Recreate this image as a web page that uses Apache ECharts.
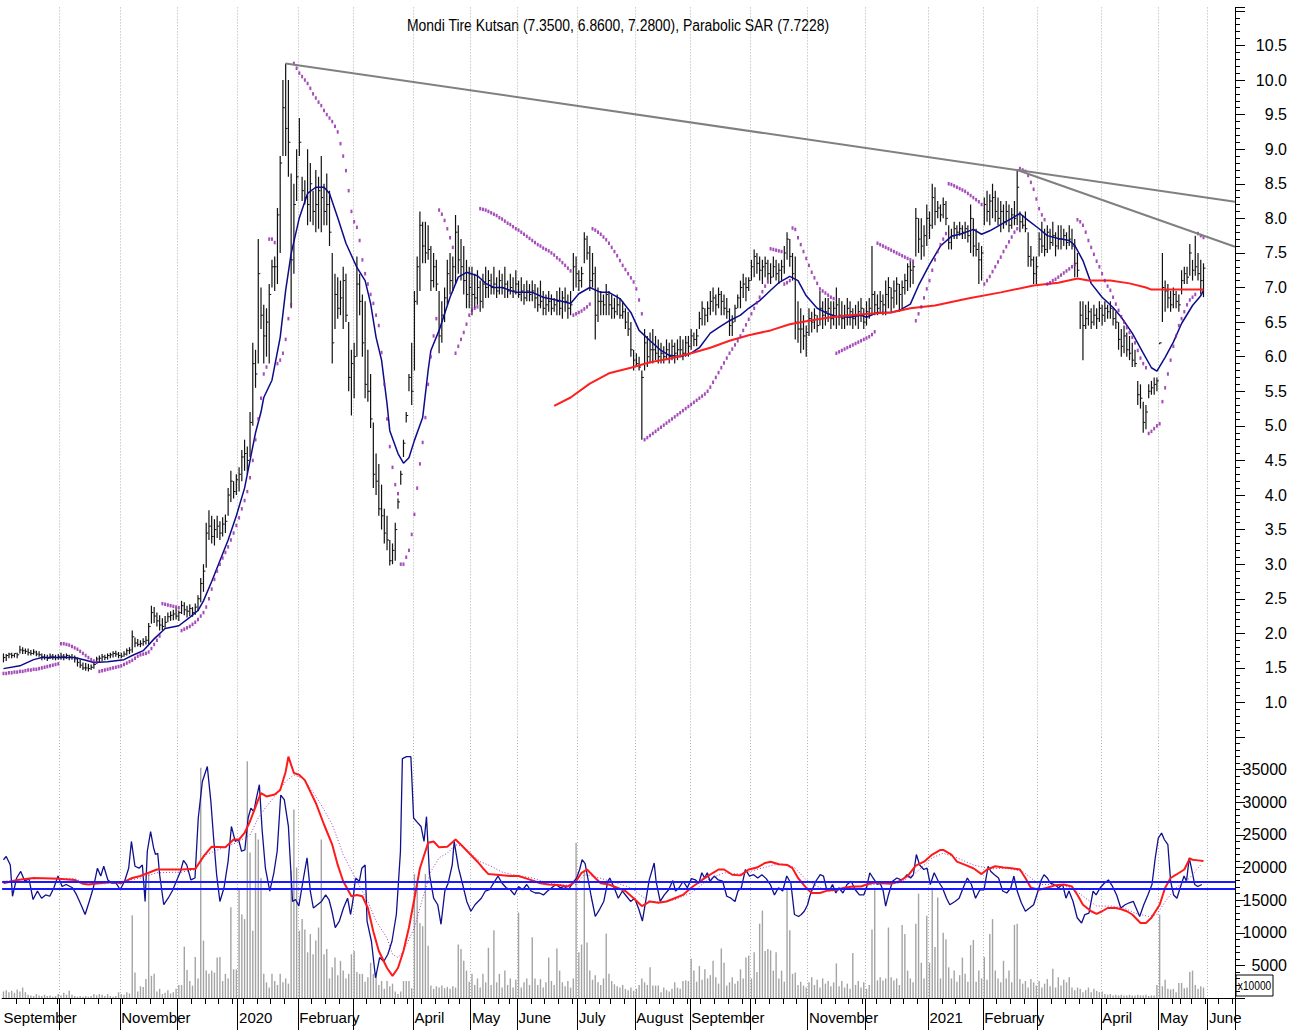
<!DOCTYPE html>
<html><head><meta charset="utf-8">
<script src="https://cdn.jsdelivr.net/npm/echarts/dist/echarts.min.js"></script>
<style>html,body{margin:0;padding:0;background:#fff}#c{width:1300px;height:1034px}</style>
</head><body><div id="c"></div>
<script>
const FONT = "'Liberation Sans Narrow','Arial Narrow','Liberation Sans',Arial,sans-serif";
const startDate = '2019-09-02';
const holidays = ['2019-10-29','2020-01-01','2020-04-23','2020-05-01','2020-05-19','2020-05-25','2020-05-26','2020-07-15','2020-07-31','2020-08-03','2020-10-29','2021-01-01','2021-04-23','2021-05-13','2021-05-14','2021-05-19'];
const slotCount = 450;
const monthLabels = [['2019-09','September'],['2019-11','November'],['2020-01','2020'],['2020-02','February'],['2020-04','April'],['2020-05','May'],['2020-06','June'],['2020-07','July'],['2020-08','August'],['2020-09','September'],['2020-11','November'],['2021-01','2021'],['2021-02','February'],['2021-04','April'],['2021-05','May'],['2021-06','June']];

const high = [
1.71,1.70,1.72,1.72,1.71,1.72,1.82,1.80,1.78,1.78,
1.76,1.77,1.75,1.74,1.71,1.70,1.69,1.71,1.70,1.69,
1.70,1.72,1.70,1.71,1.69,1.70,1.68,1.65,1.62,1.58,
1.57,1.56,1.55,1.58,1.66,1.68,1.70,1.69,1.71,1.72,
1.74,1.75,1.73,1.72,1.74,1.78,1.80,2.04,1.94,1.92,
1.90,1.93,1.96,2.15,2.40,2.38,2.30,2.26,2.22,2.25,
2.30,2.32,2.34,2.36,2.33,2.47,2.45,2.40,2.42,2.38,
2.43,2.55,2.80,3.00,3.60,3.78,3.70,3.65,3.70,3.62,
3.68,3.72,4.10,4.35,4.20,4.30,4.40,4.65,4.80,4.70,
5.20,6.20,6.10,7.70,7.00,6.75,6.70,7.05,7.40,7.45,
8.15,8.90,10.00,10.24,10.00,8.65,8.50,9.00,9.45,8.60,
8.55,9.00,8.80,8.40,8.70,8.60,8.90,8.50,8.65,8.40,
7.50,7.20,7.15,7.10,7.30,7.20,6.50,6.10,6.20,7.45,
7.20,6.90,6.80,6.10,5.75,5.05,4.60,4.45,4.15,3.80,
3.70,3.35,3.30,3.60,3.95,4.35,4.80,5.20,5.75,6.20,
6.95,7.45,8.10,7.95,7.95,7.90,7.60,7.50,7.40,6.95,
6.80,7.00,7.40,7.50,7.45,8.05,7.90,7.70,7.60,7.40,
7.30,7.30,7.20,7.25,7.10,7.20,7.30,7.25,7.20,7.30,
7.15,7.25,7.20,7.30,7.10,7.20,7.15,7.25,7.10,7.15,
7.05,7.10,7.05,7.10,7.05,7.00,7.10,6.95,6.90,6.95,
6.90,6.85,6.95,7.00,6.95,7.00,6.90,6.95,7.50,7.45,
7.25,7.30,7.80,7.75,7.60,7.50,7.30,7.00,6.95,6.90,
7.05,6.95,6.90,6.85,6.90,6.85,6.80,6.70,6.65,6.50,
6.10,6.05,6.00,5.80,6.40,6.30,6.35,6.40,6.30,6.25,
6.20,6.15,6.25,6.20,6.25,6.20,6.25,6.30,6.25,6.30,
6.30,6.40,6.35,6.40,6.65,6.80,6.70,6.80,6.95,7.00,
6.90,7.00,6.95,6.90,6.85,6.70,6.60,6.75,6.90,7.10,
7.20,7.15,7.15,7.40,7.55,7.50,7.45,7.40,7.45,7.40,
7.35,7.45,7.40,7.35,7.40,7.60,7.80,7.70,7.50,7.45,
6.80,6.70,6.60,6.45,6.70,6.65,6.70,6.60,6.95,6.80,
6.85,6.85,6.80,6.80,7.00,6.85,6.80,6.75,6.85,6.80,
6.70,6.75,6.80,6.85,6.70,6.80,6.85,7.60,6.95,6.90,
6.95,6.90,7.10,7.15,7.00,7.10,7.15,7.05,7.10,7.20,
7.35,7.38,7.36,8.15,8.00,8.00,7.90,8.20,8.10,8.50,
8.45,8.25,8.20,8.30,8.25,7.90,7.85,7.95,7.90,7.95,
7.90,7.95,7.90,8.20,8.00,7.85,7.65,7.60,8.30,8.40,
8.35,8.50,8.40,8.30,8.25,8.20,8.25,8.20,8.15,8.25,
8.70,8.10,8.05,8.10,7.80,7.60,7.45,7.45,7.80,7.95,
7.85,7.90,7.85,7.95,7.80,7.90,7.90,7.85,7.80,7.90,
7.85,7.70,7.50,6.80,6.80,6.75,6.80,6.70,6.75,6.70,
6.80,6.75,6.80,6.75,6.80,6.70,6.65,6.50,6.40,6.45,
6.35,6.30,6.20,6.10,5.65,5.60,5.35,5.30,5.60,5.65,
5.70,5.70,6.20,7.50,7.10,7.05,6.95,7.00,6.95,6.90,
7.25,7.30,7.30,7.63,7.40,7.75,7.50,7.40,7.35];
const low = [
1.58,1.60,1.64,1.64,1.65,1.64,1.71,1.70,1.70,1.68,
1.68,1.69,1.67,1.66,1.61,1.62,1.60,1.63,1.62,1.61,
1.62,1.62,1.61,1.63,1.61,1.62,1.58,1.52,1.50,1.47,
1.46,1.45,1.47,1.49,1.56,1.58,1.60,1.61,1.62,1.64,
1.65,1.66,1.64,1.64,1.66,1.68,1.70,1.72,1.80,1.81,
1.80,1.82,1.84,1.84,2.14,2.15,2.10,2.04,2.05,2.08,
2.16,2.18,2.19,2.20,2.18,2.28,2.26,2.23,2.25,2.24,
2.27,2.32,2.45,2.60,2.95,3.35,3.30,3.27,3.38,3.35,
3.40,3.45,3.70,3.90,3.95,4.00,4.05,4.20,4.35,4.30,
4.55,5.00,5.55,5.90,6.40,5.90,6.00,5.90,7.00,6.95,
7.05,7.50,8.90,8.90,8.60,6.70,7.20,8.25,8.90,8.25,
8.20,7.90,7.95,7.90,7.80,7.85,7.80,7.90,7.90,7.60,
5.90,6.40,6.55,6.60,6.40,6.50,5.50,5.15,5.40,6.00,
6.60,6.00,5.40,5.35,4.97,4.10,4.00,3.70,3.50,3.30,
3.20,2.98,3.00,3.05,3.80,4.15,4.55,5.05,5.50,5.30,
5.80,6.75,6.95,7.35,7.35,7.40,6.95,7.00,6.95,6.05,
6.20,6.50,6.75,6.90,6.95,7.05,7.20,7.10,6.90,6.70,
6.70,6.60,6.70,6.75,6.65,6.70,6.85,6.85,6.90,6.90,
6.85,6.90,6.90,6.85,6.85,6.90,6.85,6.90,6.85,6.80,
6.75,6.80,6.80,6.80,6.70,6.65,6.70,6.60,6.60,6.65,
6.60,6.65,6.60,6.60,6.55,6.65,6.55,6.60,6.95,7.00,
6.95,7.00,7.35,7.40,6.95,7.00,6.25,6.50,6.60,6.60,
6.60,6.60,6.55,6.55,6.60,6.55,6.55,6.40,6.30,6.00,
5.80,5.85,5.80,4.80,5.80,5.85,5.90,5.90,5.95,5.90,
5.90,5.90,5.95,5.90,5.95,5.90,5.95,6.00,5.95,6.00,
6.00,6.10,6.15,6.15,6.40,6.45,6.45,6.50,6.60,6.65,
6.60,6.70,6.60,6.60,6.55,6.30,6.30,6.50,6.70,6.70,
6.85,6.80,6.95,7.10,7.15,7.20,7.10,7.05,7.15,7.10,
7.05,7.15,7.10,7.05,7.10,7.20,7.40,7.30,7.10,6.25,
6.20,6.05,6.10,6.00,6.30,6.35,6.40,6.35,6.45,6.40,
6.45,6.50,6.40,6.45,6.40,6.45,6.40,6.40,6.45,6.45,
6.40,6.45,6.40,6.50,6.40,6.45,6.55,6.60,6.60,6.60,
6.65,6.60,6.60,6.70,6.65,6.70,6.75,6.65,6.70,6.90,
6.95,7.00,7.05,7.45,7.50,7.40,7.45,7.60,7.70,7.85,
7.90,8.00,7.95,8.00,7.90,7.55,7.55,7.70,7.70,7.75,
7.70,7.70,7.65,7.50,7.45,7.45,7.05,7.10,7.90,7.95,
7.90,8.00,7.95,7.90,7.80,7.85,7.90,7.80,7.85,7.90,
7.90,7.80,7.85,7.80,7.30,7.30,7.05,7.05,7.45,7.50,
7.45,7.50,7.55,7.60,7.45,7.55,7.55,7.60,7.55,7.60,
7.55,7.15,7.15,6.40,5.95,6.40,6.45,6.40,6.45,6.40,
6.50,6.45,6.50,6.55,6.55,6.45,6.40,6.10,6.00,6.05,
6.00,5.95,5.85,5.85,5.30,5.25,4.90,4.95,5.40,5.45,
5.45,5.50,6.20,6.50,6.65,6.70,6.65,6.70,6.70,6.65,
6.90,7.05,7.05,7.17,7.10,7.17,7.10,6.90,6.86];
const close = [
1.65,1.68,1.70,1.68,1.71,1.69,1.76,1.75,1.74,1.72,
1.71,1.73,1.70,1.69,1.66,1.65,1.64,1.67,1.66,1.65,
1.66,1.67,1.66,1.68,1.66,1.65,1.63,1.58,1.54,1.50,
1.50,1.49,1.51,1.55,1.63,1.64,1.66,1.65,1.68,1.69,
1.71,1.70,1.68,1.67,1.70,1.75,1.76,1.95,1.86,1.84,
1.85,1.88,1.90,2.10,2.30,2.25,2.18,2.12,2.10,2.16,
2.24,2.26,2.28,2.25,2.30,2.40,2.34,2.32,2.36,2.30,
2.38,2.50,2.72,2.90,3.45,3.55,3.40,3.50,3.55,3.45,
3.58,3.62,4.00,4.20,4.05,4.22,4.30,4.55,4.60,4.50,
5.05,5.90,5.75,7.20,6.60,6.30,6.50,6.90,7.30,7.30,
8.05,8.80,9.60,9.30,9.10,7.40,8.20,8.60,9.10,8.40,
8.30,8.20,8.50,8.10,8.20,8.40,8.30,8.10,8.20,7.80,
6.20,6.90,6.70,6.85,7.10,6.60,5.70,5.90,6.00,7.05,
6.80,6.20,5.60,5.50,5.10,4.30,4.20,3.80,3.70,3.45,
3.35,3.05,3.20,3.50,3.90,4.30,4.75,5.15,5.70,5.50,
6.80,7.30,7.90,7.60,7.50,7.55,7.10,7.30,7.05,6.30,
6.60,6.85,7.20,7.10,7.30,7.80,7.40,7.30,7.10,6.90,
7.00,6.90,6.85,7.00,6.80,7.05,7.00,7.10,7.00,7.05,
6.95,7.10,7.00,7.05,6.95,7.00,6.95,7.05,6.90,6.95,
6.85,6.95,6.90,6.95,6.85,6.75,6.80,6.70,6.75,6.80,
6.70,6.75,6.80,6.70,6.85,6.80,6.70,6.75,7.30,7.20,
7.10,7.20,7.70,7.50,7.10,7.20,6.60,6.80,6.80,6.75,
6.90,6.75,6.70,6.65,6.75,6.60,6.65,6.50,6.40,6.10,
5.95,5.90,5.85,5.70,6.20,6.00,6.10,6.10,6.05,6.00,
6.05,6.00,6.10,6.00,6.15,6.05,6.10,6.10,6.05,6.20,
6.15,6.30,6.25,6.30,6.55,6.70,6.60,6.70,6.80,6.85,
6.75,6.90,6.80,6.70,6.65,6.45,6.50,6.70,6.85,7.00,
7.05,7.00,7.10,7.30,7.45,7.35,7.25,7.30,7.35,7.20,
7.15,7.30,7.20,7.25,7.30,7.50,7.70,7.45,7.20,6.50,
6.40,6.40,6.30,6.35,6.55,6.50,6.60,6.45,6.70,6.60,
6.65,6.70,6.55,6.70,6.75,6.60,6.55,6.60,6.70,6.65,
6.55,6.60,6.65,6.70,6.50,6.65,6.70,6.90,6.75,6.70,
6.80,6.75,6.90,7.00,6.85,6.95,7.05,6.90,7.00,7.10,
7.30,7.25,7.30,8.00,7.70,7.60,7.75,8.00,7.90,8.30,
8.10,8.15,8.05,8.20,8.00,7.65,7.75,7.85,7.80,7.85,
7.80,7.85,7.75,8.00,7.60,7.55,7.40,7.50,8.20,8.10,
8.25,8.30,8.10,8.00,8.10,7.95,8.10,7.90,8.05,8.00,
8.45,7.95,7.90,7.85,7.45,7.40,7.20,7.30,7.70,7.60,
7.55,7.80,7.65,7.75,7.60,7.70,7.70,7.75,7.65,7.70,
7.60,7.35,7.25,6.60,6.45,6.55,6.65,6.50,6.60,6.55,
6.70,6.60,6.70,6.65,6.70,6.55,6.50,6.25,6.15,6.30,
6.10,6.05,5.95,5.90,5.45,5.40,5.05,5.20,5.50,5.55,
5.60,5.65,6.20,7.00,6.95,6.85,6.75,6.90,6.80,6.75,
7.10,7.20,7.15,7.50,7.25,7.30,7.20,7.10,7.28];
const sar = [
1.42,1.42,1.43,1.43,1.44,1.44,1.45,1.45,1.46,1.47,
1.47,1.48,1.48,1.49,1.50,1.51,1.52,1.53,1.54,1.55,
1.56,1.85,1.85,1.84,1.83,1.81,1.79,1.77,1.74,1.71,
1.68,1.65,1.62,1.60,1.58,1.45,1.46,1.47,1.48,1.49,
1.50,1.51,1.52,1.53,1.55,1.57,1.59,1.61,1.64,1.67,
1.69,1.70,1.71,1.73,1.78,1.84,1.90,1.96,2.43,2.42,
2.41,2.40,2.39,2.38,2.37,2.04,2.06,2.08,2.10,2.13,
2.16,2.20,2.25,2.30,2.38,2.50,2.64,2.78,2.90,3.00,
3.09,3.17,3.25,3.35,3.45,3.56,3.67,3.80,3.92,4.05,
4.25,4.50,4.80,5.10,5.40,5.75,5.85,7.70,7.70,7.65,
5.90,5.95,6.05,6.25,6.55,6.75,10.24,10.17,10.10,10.05,
10.00,9.95,9.88,9.80,9.74,9.68,9.63,9.56,9.50,9.45,
9.40,9.33,9.25,9.08,8.90,8.69,8.40,8.10,7.95,7.87,
7.68,7.40,7.20,7.05,6.90,6.77,6.60,6.45,6.06,5.60,
5.10,4.70,4.40,4.15,4.02,3.00,3.00,3.10,3.20,3.43,
3.72,4.10,4.45,4.76,5.12,5.60,6.00,6.30,6.55,8.12,
8.06,7.97,7.85,7.72,7.58,6.05,6.15,6.25,6.35,6.47,
6.60,6.67,6.70,6.72,8.14,8.13,8.12,8.10,8.08,8.06,
8.04,8.01,7.99,7.96,7.93,7.91,7.88,7.85,7.83,7.80,
7.77,7.74,7.71,7.68,7.65,7.62,7.60,7.57,7.55,7.53,
7.50,7.47,7.43,7.40,7.36,7.32,7.28,7.24,6.60,6.62,
6.64,6.66,6.69,6.72,6.76,7.85,7.83,7.80,7.77,7.73,
7.69,7.64,7.58,7.52,7.46,7.39,7.32,7.26,7.20,7.14,
7.08,6.98,6.82,6.62,4.80,4.83,4.86,4.89,4.92,4.95,
4.98,5.01,5.04,5.07,5.10,5.13,5.16,5.19,5.22,5.25,
5.28,5.31,5.34,5.37,5.40,5.43,5.46,5.50,5.56,5.63,
5.70,5.77,5.84,5.91,5.98,6.05,6.11,6.17,6.23,6.30,
6.38,6.46,6.54,6.62,6.70,6.78,6.86,6.94,7.02,7.08,
7.56,7.55,7.54,7.53,7.52,7.05,7.07,7.10,7.86,7.84,
7.72,7.62,7.52,7.42,7.32,7.22,7.14,7.06,6.98,6.95,
6.92,6.89,6.86,6.84,6.05,6.07,6.09,6.11,6.13,6.15,
6.17,6.19,6.21,6.23,6.25,6.27,6.29,6.32,6.36,7.64,
7.62,7.60,7.58,7.56,7.54,7.52,7.50,7.48,7.46,7.44,
7.42,7.40,7.38,6.52,6.62,6.72,6.85,6.98,7.10,7.25,
7.40,7.52,7.62,7.70,7.78,8.50,8.49,8.47,8.45,8.43,
8.41,8.39,8.36,8.33,8.30,8.27,8.24,8.20,7.05,7.10,
7.16,7.23,7.30,7.37,7.44,7.52,7.59,7.66,7.73,7.80,
7.85,8.72,8.70,8.68,8.62,8.52,8.42,8.28,8.14,8.05,
7.98,7.05,7.07,7.10,7.12,7.15,7.18,7.21,7.24,7.27,
7.30,7.33,7.98,7.95,7.90,7.80,7.68,7.58,7.48,7.38,
7.30,7.20,7.10,7.02,6.96,6.86,6.76,6.67,6.58,6.50,
6.42,6.35,6.28,6.20,6.09,5.98,5.90,5.84,4.89,4.92,
4.96,5.00,5.03,5.35,5.55,5.75,5.95,6.15,6.30,6.45,
6.55,6.65,6.75,6.82,6.86,6.90,7.78,7.75,7.7228];
const volume = [
1000,1200,900,1100,800,1300,1000,1600,900,500,
400,300,600,400,300,500,300,400,200,300,
600,400,800,500,1100,500,300,200,300,200,
300,200,300,600,400,600,500,300,600,300,
200,300,870,600,500,870,700,12700,3900,1000,
1800,1700,2900,19000,3400,3700,1000,1400,600,800,
1200,700,900,1400,2000,2000,7850,4300,2600,1900,
6300,3000,35300,8800,4200,3700,4200,3900,6200,6300,
2600,3700,3000,13900,4400,4400,16700,12800,12100,36300,
22300,10300,25300,24300,18400,3700,2400,1600,3700,2600,
2000,3700,2400,3000,2200,19500,28900,20000,10300,12100,
10500,7000,9800,6700,8800,10800,24300,6700,7500,3000,
4700,6200,3500,5700,4200,3000,3700,6700,7200,4000,
3700,3700,2500,3200,5400,3700,3900,2000,2600,1400,
2600,1800,2200,1000,600,1000,2600,2600,2600,1500,
19000,17500,11500,11000,19000,8000,1900,1400,1800,1600,
1900,1500,1700,1400,1800,1600,8200,7500,5700,4200,
2500,3700,2000,3000,1600,3700,2400,7700,2000,10400,
2400,3700,1600,4200,2000,3000,1600,2800,13100,1600,
2400,3000,2000,9300,3000,2000,2900,1600,2400,6200,
2600,2000,7600,4200,2400,1800,2600,1600,3000,23800,
7000,8200,19500,8500,4200,2800,3500,2400,2000,3000,
9900,3700,2600,2100,1800,1600,2000,1400,1200,1600,
1100,1400,2000,3000,2400,2000,4700,1900,1900,1900,
900,1600,1200,1000,1400,2400,1600,1400,2600,2700,
2600,6000,4200,2500,4900,2800,4400,3000,3500,5700,
3200,2200,7600,5400,1900,2400,3200,2200,2600,4400,
3000,6200,6500,3000,7000,4000,11400,13400,7200,7500,
7300,4200,7000,3000,4200,2500,16900,10400,3700,3900,
2000,2500,1900,1600,2400,3200,2000,2800,1600,3000,
2200,2600,1800,2400,5300,1800,2600,1600,2200,1400,
6900,2000,2600,1600,2400,1400,2000,10500,16900,2700,
3200,2700,3000,10800,3200,2700,3000,2000,11200,9800,
4200,3000,2400,11400,16000,5400,3000,12600,5400,16900,
7800,15400,3000,10000,9000,4700,3000,4200,2500,3500,
6200,3700,2500,8100,8900,2500,4200,3000,6300,2800,
9800,12100,4200,3000,2400,5700,3000,4200,2400,11200,
11400,2900,2200,2600,1600,2900,2400,1900,2600,1600,
2200,2900,1800,4500,1600,3200,1900,2800,2400,3200,
1600,1200,1600,1400,900,1200,1600,900,1400,1100,
900,1000,600,500,600,400,500,400,500,400,
400,500,400,400,500,400,400,500,300,400,
400,2000,12800,1800,2800,1400,1300,1400,900,2300,
2300,1500,1600,4000,4200,2000,1400,1800,1600];
const ma20 = [[0,1.49],[6,1.53],[11,1.62],[14,1.65],[20,1.65],[26,1.65],[30,1.61],[33,1.58],[38,1.59],[44,1.62],[47,1.68],[51,1.75],[55,1.92],[59,2.07],[64,2.11],[68,2.23],[71,2.33],[73,2.47],[76,2.75],[79,3.05],[82,3.35],[85,3.70],[88,4.10],[90,4.50],[92,4.90],[94,5.20],[95,5.41],[98,5.66],[101,6.28],[103,6.96],[105,7.49],[108,8.01],[111,8.36],[114,8.45],[117,8.45],[119,8.36],[122,8.01],[125,7.64],[129,7.29],[132,7.10],[134,6.77],[136,6.28],[138,5.95],[140,5.32],[141,4.93],[144,4.60],[146,4.46],[148,4.54],[150,4.79],[153,5.12],[155,5.80],[156,6.09],[159,6.38],[163,6.86],[166,7.15],[169,7.22],[173,7.17],[176,7.06],[179,7.00],[182,7.00],[187,6.93],[193,6.93],[197,6.86],[199,6.84],[203,6.81],[207,6.77],[210,6.91],[214,7.00],[218,6.93],[221,6.93],[225,6.84],[229,6.64],[232,6.38],[236,6.23],[240,6.09],[243,6.02],[247,6.00],[251,6.05],[254,6.13],[258,6.34],[261,6.42],[265,6.52],[269,6.60],[272,6.70],[276,6.81],[280,6.96],[283,7.07],[287,7.16],[290,7.10],[293,6.88],[297,6.70],[301,6.62],[304,6.58],[309,6.57],[313,6.60],[315,6.57],[319,6.64],[324,6.64],[327,6.67],[331,6.76],[334,7.03],[338,7.33],[342,7.60],[346,7.74],[350,7.78],[354,7.84],[357,7.77],[360,7.82],[364,7.91],[368,8.00],[371,8.07],[374,7.97],[378,7.85],[381,7.75],[385,7.71],[389,7.68],[391,7.61],[394,7.39],[397,7.06],[401,6.86],[405,6.71],[408,6.57],[412,6.34],[416,6.05],[419,5.84],[421,5.79],[424,5.99],[427,6.21],[430,6.48],[434,6.74],[437,6.88],[438,6.96]];
const ma200 = [[201,5.29],[207,5.41],[214,5.61],[221,5.76],[229,5.84],[236,5.92],[243,5.97],[251,6.05],[258,6.13],[265,6.23],[272,6.31],[280,6.38],[287,6.47],[294,6.52],[302,6.57],[309,6.60],[316,6.62],[324,6.64],[331,6.70],[340,6.74],[352,6.84],[364,6.93],[376,7.03],[385,7.07],[392,7.13],[396,7.10],[404,7.10],[411,7.06],[417,7.00],[419,6.97],[425,6.97],[438,6.97]];
const trendLineA = [[103,10.24],[449.5,8.24]];
const trendLineB = [[370,8.70],[449.5,7.59]];
const oscBlue = [[0,21200],[1,21700],[2.5,20400],[3.3,15600],[4.8,18400],[6.3,19400],[7.8,17900],[9.3,18300],[10.8,15100],[12.4,16400],[13.9,15300],[15.4,15800],[16.9,15600],[18.4,16900],[19.9,18700],[21.4,17100],[22.9,17400],[25.2,16900],[26.7,15800],[28.3,14300],[29.8,12800],[31.3,14800],[32.8,16900],[34.3,19900],[35.5,18700],[36.6,20200],[38.1,18100],[39.6,17600],[41.1,17600],[42.6,16600],[44.2,17900],[45.7,19900],[46.7,24000],[48,20200],[49.5,19900],[50.7,20400],[51.7,14800],[52.5,22500],[53.7,25500],[54.8,23000],[55.5,22000],[56.3,22200],[57,18900],[58.5,14300],[60.1,15300],[61.6,16400],[63.1,17900],[64.6,19400],[65.7,21100],[66.9,20400],[68.4,18100],[69.9,18400],[71.1,27600],[72.6,33200],[74.4,35500],[75.7,30100],[76.7,24500],[77.8,18900],[79,14800],[80.5,16900],[82,21000],[83.2,26300],[84.6,24000],[85.8,24300],[86.9,22500],[88.1,22700],[89.3,27600],[90.3,29100],[91.4,28600],[92.3,30600],[93.4,32700],[94.4,25800],[95.6,19900],[97.2,16400],[98.7,19200],[99.9,22500],[101.2,31100],[102.5,30400],[104,26300],[104.7,20900],[105.5,14800],[106.6,15100],[107.8,14100],[109.3,17900],[110.8,21500],[112,16400],[113.1,13800],[114.6,14300],[116.1,14800],[117.6,15800],[118.8,15100],[119.9,13300],[121.1,10800],[122.6,11800],[124.1,13800],[125.6,15300],[126.7,12800],[127.5,14800],[128.5,18400],[129.9,17900],[130.8,19900],[132,20400],[132.7,11800],[134.3,8700],[135.8,3100],[137.3,6200],[138.8,5600],[140.3,6700],[141.8,8700],[143.4,12800],[144.9,22500],[145.6,36700],[147.1,37000],[148.7,37000],[149.7,27600],[150.9,27000],[152.4,26300],[153.5,24000],[154.4,27800],[155.5,18900],[157,15300],[158.5,14300],[159.7,11300],[161.1,16400],[162.3,17600],[163.8,20400],[164.5,24000],[166.1,19900],[167.6,17400],[169.1,14800],[170.6,13300],[172.1,14300],[174.4,15300],[175.9,16400],[177.4,16600],[178.9,17600],[180.5,18700],[182,17600],[183.5,16900],[185,16600],[186.5,15800],[188,17100],[189.5,16600],[191,17400],[192.6,16400],[194.1,16100],[195.6,16100],[197.1,15800],[198.6,16400],[200.1,16900],[201.7,17400],[203.2,16900],[204.7,17100],[206.2,16600],[207.7,17600],[209.2,18400],[210.3,19700],[211.2,21200],[212.3,20600],[213.5,17900],[214.5,15600],[216,12500],[217.6,13600],[219.1,14800],[220.6,17900],[221.3,18400],[222.9,16900],[224.4,15300],[225.9,16400],[227.4,15600],[228.9,14800],[230.4,15300],[231.9,13600],[233.2,11800],[234.2,14300],[235.7,18100],[237.5,20700],[238.2,17900],[239.7,14800],[241.2,15800],[242.8,16600],[244.3,18000],[245.3,16400],[246.6,16900],[248.1,17900],[249.6,16900],[251.1,18300],[252.6,18100],[253.8,17600],[254.9,19200],[255.9,18400],[256.9,19200],[257.9,17900],[259.4,18700],[260.9,18100],[262.5,17900],[264,15600],[265.5,15300],[267,14800],[268.1,16400],[269.3,16900],[270.8,19700],[272.3,18700],[273.8,18900],[275.3,18400],[276.8,18900],[278.4,18300],[279.9,17400],[281.4,15800],[282.9,16900],[284.4,16400],[285.9,18700],[287.4,17600],[288.7,12800],[290.2,12500],[291.2,12800],[292.3,13300],[293.5,14300],[294.3,15600],[295,16400],[296.5,17900],[298.1,18900],[299.3,18700],[300.3,16900],[301.4,16400],[302.6,17400],[303.8,16100],[304.9,16900],[306.4,16100],[307.9,17400],[309.4,17900],[310.9,16600],[312.4,15800],[314,15800],[315,16900],[316.2,19200],[317.4,18400],[319,17400],[320,17600],[321.1,16400],[322,14100],[323,15800],[324.5,17900],[326.1,18400],[327.6,18100],[328.8,18400],[329.8,18900],[331.1,18400],[332.1,18900],[333.2,22000],[334.4,20400],[335.9,19700],[337.1,19900],[338.3,17400],[339.7,19200],[341.2,17900],[342.7,16900],[344.2,15300],[345.4,14300],[347.3,14800],[348.8,15300],[350.3,16900],[351.8,18400],[353.3,17400],[354.8,15300],[356.4,16600],[357.9,16600],[359.4,20200],[360.4,19400],[361.7,18900],[363.2,18400],[364.7,16400],[366.2,16100],[367.7,16900],[368.8,18700],[370,16400],[371.5,14600],[373,13300],[374.5,13800],[376,14300],[377.6,16400],[378.8,18100],[379.8,18900],[381,18400],[382.1,17600],[383.6,17400],[385.1,16900],[386.6,17400],[387.8,15300],[388.9,16400],[390.4,14800],[391.9,12300],[393.5,11500],[394.7,12800],[396.2,13000],[397.7,16400],[398.8,15800],[400.3,16900],[401.8,17600],[403.3,18100],[404.8,17100],[406.3,15800],[407.8,13800],[409.4,14300],[410.9,14600],[412.4,14800],[413.4,13800],[414.7,12500],[416.2,14300],[417.7,15800],[419.2,17400],[420.4,21500],[421.5,24500],[422.7,25300],[423.7,24300],[425,23500],[426,17900],[427.1,15800],[428.3,15300],[429.5,16900],[430.9,18700],[431.8,17900],[432.8,21500],[433.6,19900],[434.8,17400],[435.9,17100],[437.4,17400]];
const oscRed = [[0,17600],[5,18100],[11,18400],[20,18300],[26,18100],[29,17500],[31,17400],[35,17600],[40,17800],[43,17600],[47,18400],[50,18700],[56,19700],[61,19700],[65,19700],[70,19800],[73,21700],[76,23200],[81,23100],[84,24300],[86,24300],[88,25300],[90,27100],[93,30400],[94,31400],[96,30900],[99,31200],[101,31900],[103,34700],[104,37000],[106,34500],[108,34200],[110,33400],[114,29900],[117,26600],[120,23500],[122,20400],[124,17900],[127,15600],[129,15800],[131,15600],[133,13800],[135,10200],[137,7200],[140,4600],[142,3400],[144,4600],[146,7200],[148,10800],[150,15300],[152,19900],[155,23800],[157,24000],[159,23100],[162,23200],[165,24300],[167,23500],[170,22200],[173,20900],[175,19900],[177,19000],[180,18900],[185,18700],[188,18700],[191,18300],[196,17600],[199,17400],[203,17300],[206,17100],[209,17900],[211,19200],[213,19700],[216,18400],[218,17600],[221,17400],[224,16900],[227,16400],[230,15300],[233,14100],[234,14300],[236,14800],[239,14600],[242,14800],[245,15300],[248,15800],[251,16900],[255,18100],[259,19200],[261,19700],[263,19700],[266,18900],[269,18800],[272,19700],[275,20000],[278,20700],[280,20900],[283,20500],[286,20400],[288,19900],[290,18400],[293,16900],[295,16100],[298,16100],[301,16500],[304,16600],[307,16900],[310,17100],[313,17100],[315,17400],[318,17700],[321,17600],[324,17500],[327,17900],[330,18700],[333,20300],[336,20900],[339,22000],[342,22700],[343,22700],[346,22000],[348,20900],[351,20400],[354,19900],[357,19000],[359,19700],[362,20200],[365,20000],[368,19900],[371,19700],[373,18400],[375,16900],[378,16600],[381,16900],[384,17300],[387,17400],[390,17100],[392,15800],[394,14300],[397,13300],[399,12900],[401,13300],[403,13800],[406,13800],[408,13600],[410,13300],[412,12800],[415,11500],[417,11500],[419,12300],[422,14300],[424,16900],[426,18400],[428,18900],[431,19700],[433,21400],[434,21200],[436,21100],[438,21000]];
const oscSignal = [[0,17900],[14,18400],[26,18300],[30,17600],[37,17500],[44,17900],[50,18400],[56,19200],[65,19300],[70,19700],[74,22000],[80,23000],[85,23800],[90,25000],[93,27600],[96,29400],[99,30900],[103,33200],[106,34200],[109,33700],[112,32200],[116,29600],[120,26600],[124,22000],[129,17900],[133,14800],[136,11800],[140,9200],[142,6700],[144,6200],[146,7200],[150,10800],[153,15300],[156,19400],[159,21500],[162,22200],[165,23500],[168,23200],[171,22000],[174,20900],[178,20200],[182,19300],[186,18900],[193,18400],[199,17600],[205,17300],[209,17400],[212,18900],[215,18700],[220,18100],[224,17600],[229,16900],[233,15600],[236,14800],[240,14700],[245,15100],[251,16100],[257,18100],[263,19200],[269,19000],[275,19700],[281,20400],[286,20500],[289,19900],[293,18100],[298,16900],[303,16400],[309,16900],[315,17300],[321,17500],[327,17600],[333,19200],[339,21500],[343,22200],[348,21500],[354,20400],[360,19800],[366,19900],[372,19400],[378,17400],[384,17400],[390,16900],[395,15300],[399,14100],[404,14100],[409,13800],[413,13000],[418,12500],[421,12800],[424,14800],[428,16900],[433,18400],[437,20400]];
const levels = [17800, 16800];

// ---- categories (trading days) ----
function buildDates() {
  const hol = new Set(holidays);
  const out = [];
  let t = Date.parse(startDate + 'T00:00:00Z');
  while (out.length < slotCount) {
    const d = new Date(t);
    const wd = d.getUTCDay();
    const s = d.toISOString().slice(0, 10);
    if (wd !== 0 && wd !== 6 && !hol.has(s)) out.push(s);
    t += 86400000;
  }
  return out;
}
const dates = buildDates();
const monthStart = dates.map((s, i) => i > 0 && s.slice(0, 7) !== dates[i - 1].slice(0, 7));
const weekStart = dates.map((s, i) => i > 0 && new Date(s + 'T00:00:00Z').getUTCDay() < new Date(dates[i - 1] + 'T00:00:00Z').getUTCDay());
const labelAt = {};
dates.forEach((s, i) => {
  if (i === 0 || monthStart[i]) {
    const m = monthLabels.find(e => e[0] === s.slice(0, 7));
    if (m) labelAt[i] = m[1];
  }
});

const n = close.length;
const titleText = 'Mondi Tire Kutsan (' + high[n-1].toFixed(4) + ', ' + low[n-1].toFixed(4) + ', ' + close[n-1].toFixed(4) + '), Parabolic SAR (' + sar[n-1].toFixed(4) + ')';

const ohlc = high.map((h, i) => [i, h, low[i], close[i]]);
const sarPts = sar.map((v, i) => [i, v]);
const volPts = volume.map((v, i) => [i, v]);

const GL = 2.1, GR = 65;
const PT = 7.4, PH = 729.7;
const VT = PT + PH, VB = 36;

const chart = echarts.init(document.getElementById('c'), null, { renderer: 'svg', width: 1300, height: 1034 });
const gridLine = { show: true, lineStyle: { color: '#b0b0b0', type: [1, 2], width: 1 } };
chart.setOption({
  animation: false,
  backgroundColor: '#fff',
  textStyle: { fontFamily: FONT },
  grid: [
    { left: GL, right: GR, top: PT, height: PH, containLabel: false, outerBoundsMode: 'none' },
    { left: GL, right: GR, top: VT, bottom: VB, containLabel: false, outerBoundsMode: 'none' }
  ],
  xAxis: [
    { type: 'value', gridIndex: 0, min: -0.5, max: slotCount - 0.5, show: false, position: 'bottom' },
    { type: 'value', gridIndex: 1, min: -0.5, max: slotCount - 0.5, show: false, position: 'bottom' },
    { type: 'category', gridIndex: 0, data: dates, boundaryGap: true, position: 'bottom',
      axisLine: { show: false }, axisTick: { show: false }, axisLabel: { show: false },
      splitLine: Object.assign({ interval: (i) => monthStart[i] }, gridLine) },
    { type: 'category', gridIndex: 1, data: dates, boundaryGap: true, position: 'bottom',
      axisLine: { show: true, onZero: false, lineStyle: { color: '#000', width: 1 } },
      axisTick: { show: true, interval: (i) => weekStart[i], length: 6, lineStyle: { color: '#000' } },
      axisLabel: { show: true, interval: (i) => labelAt[i] !== undefined, formatter: (v, i) => labelAt[i] || '',
        align: 'left', margin: 12, fontSize: 15, color: '#000', fontFamily: FONT },
      splitLine: Object.assign({ interval: (i) => monthStart[i] }, gridLine) },
    { type: 'category', gridIndex: 1, data: dates, boundaryGap: true, position: 'bottom',
      axisLine: { show: false, onZero: false },
      axisTick: { show: true, interval: (i) => monthStart[i], length: 32, lineStyle: { color: '#000' } },
      axisLabel: { show: false }, splitLine: { show: false } }
  ],
  yAxis: [
    { type: 'value', gridIndex: 0, position: 'right', min: 0.5, max: 11.05, interval: 0.5,
      axisLine: { show: true, onZero: false, lineStyle: { color: '#000' } },
      axisTick: { show: true, length: 10, lineStyle: { color: '#000' } },
      minorTick: { show: true, splitNumber: 5, length: 5, lineStyle: { color: '#000' } },
      splitLine: { show: false },
      axisLabel: { formatter: (v) => (v >= 1 && v <= 10.5) ? v.toFixed(1) : '', align: 'right', margin: 52,
        fontSize: 16, color: '#000', fontFamily: FONT, showMinLabel: true, showMaxLabel: true } },
    { type: 'value', gridIndex: 1, position: 'right', min: 0, max: 40000, interval: 5000,
      axisLine: { show: true, onZero: false, lineStyle: { color: '#000' } },
      axisTick: { show: true, length: 10, lineStyle: { color: '#000' } },
      minorTick: { show: true, splitNumber: 5, length: 5, lineStyle: { color: '#000' } },
      splitLine: { show: false },
      axisLabel: { formatter: (v) => (v >= 5000 && v <= 35000) ? String(v) : '', align: 'right', margin: 52,
        fontSize: 16, color: '#000', fontFamily: FONT, showMinLabel: true, showMaxLabel: true } }
  ],
  graphic: [
    { type: 'text', x: 618, y: 25, scaleX: 0.87, silent: true,
      style: { text: titleText, fill: '#000', font: '16px ' + FONT, align: 'center', verticalAlign: 'middle' } },
    { type: 'rect', x: 1236, y: 975, silent: true, shape: { x: 0, y: 0, width: 37, height: 21 },
      style: { fill: '#fff', stroke: '#000', lineWidth: 1 } },
    { type: 'text', x: 1254.5, y: 986, scaleX: 0.85, silent: true,
      style: { text: 'x10000', fill: '#000', font: '12px ' + FONT, align: 'center', verticalAlign: 'middle' } }
  ],
  series: [
    { type: 'custom', name: 'Price', xAxisIndex: 0, yAxisIndex: 0, data: ohlc, encode: { x: 0, y: [1, 2, 3] },
      clip: true, silent: true, z: 2,
      renderItem: function (params, api) {
        const i = api.value(0);
        const ph = api.coord([i, api.value(1)]);
        const pl = api.coord([i, api.value(2)]);
        const pc = api.coord([i, api.value(3)]);
        const x = ph[0];
        const y2 = Math.abs(pl[1] - ph[1]) < 1 ? ph[1] + 1.5 : pl[1];
        return { type: 'group', children: [
          { type: 'line', shape: { x1: x, y1: ph[1], x2: x, y2: y2 }, style: { stroke: '#111', lineWidth: 1.2 } },
          { type: 'line', shape: { x1: x, y1: pc[1], x2: x + 2, y2: pc[1] }, style: { stroke: '#111', lineWidth: 1 } }
        ] };
      } },
    { type: 'line', name: 'MA', xAxisIndex: 0, yAxisIndex: 0, data: ma20, symbol: 'none', silent: true, z: 3,
      lineStyle: { color: '#0c0c8a', width: 1.5 } },
    { type: 'line', name: 'MA200', xAxisIndex: 0, yAxisIndex: 0, data: ma200, symbol: 'none', silent: true, z: 3,
      lineStyle: { color: '#ff1f1f', width: 2 } },
    { type: 'scatter', name: 'Parabolic SAR', xAxisIndex: 0, yAxisIndex: 0, data: sarPts, symbol: 'rect',
      symbolSize: [2, 3.5], silent: true, z: 4, itemStyle: { color: '#8e1fa6' } },
    { type: 'line', name: 'TrendA', xAxisIndex: 0, yAxisIndex: 0, data: trendLineA, symbol: 'none', silent: true, z: 5,
      lineStyle: { color: '#808080', width: 2 } },
    { type: 'line', name: 'TrendB', xAxisIndex: 0, yAxisIndex: 0, data: trendLineB, symbol: 'none', silent: true, z: 5,
      lineStyle: { color: '#808080', width: 2 } },
    { type: 'custom', name: 'Volume', xAxisIndex: 1, yAxisIndex: 1, data: volPts, encode: { x: 0, y: 1 },
      clip: true, silent: true, z: 2,
      renderItem: function (params, api) {
        const p = api.coord([api.value(0), api.value(1)]);
        const b = api.coord([api.value(0), 0]);
        return { type: 'line', shape: { x1: p[0], y1: p[1], x2: b[0], y2: b[1] }, style: { stroke: '#a4a4a4', lineWidth: 1.4 } };
      } },
    { type: 'line', name: 'Osc', xAxisIndex: 1, yAxisIndex: 1, data: oscBlue, symbol: 'none', silent: true, z: 3,
      lineStyle: { color: '#10108c', width: 1.3 } },
    { type: 'line', name: 'Signal', xAxisIndex: 1, yAxisIndex: 1, data: oscSignal, symbol: 'none', silent: true, z: 3,
      lineStyle: { color: '#a040b0', width: 1, type: [1, 2] } },
    { type: 'line', name: 'OscMA', xAxisIndex: 1, yAxisIndex: 1, data: oscRed, symbol: 'none', silent: true, z: 4,
      lineStyle: { color: '#ff1a1a', width: 2 },
      markLine: { symbol: 'none', silent: true, animation: false, label: { show: false },
        lineStyle: { color: '#1a1aff', width: 2, type: 'solid' },
        data: levels.map(v => ({ yAxis: v })) } }
  ]
});
</script>
</body></html>
